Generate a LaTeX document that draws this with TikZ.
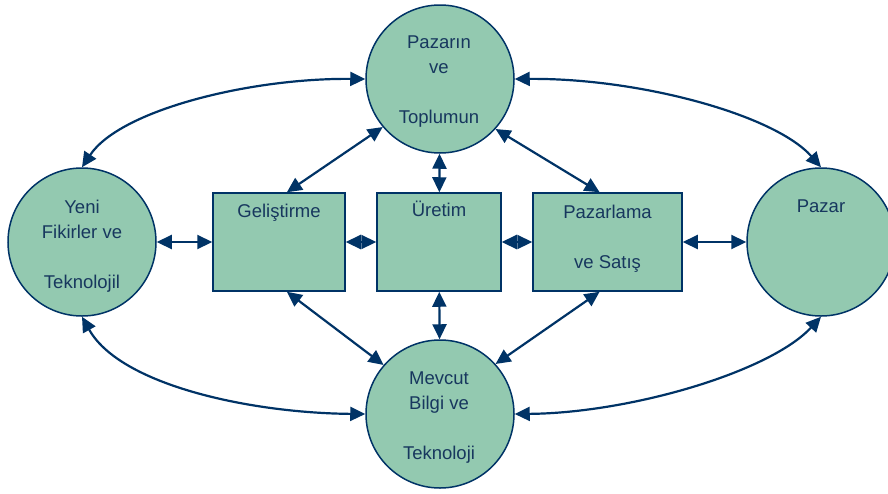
\documentclass[tikz,border=0pt]{standalone}
\usepackage{fontspec}
\setmainfont{Liberation Sans}
\usetikzlibrary{arrows.meta}
\definecolor{navy}{HTML}{003366}
\definecolor{ink}{HTML}{17375E}
\definecolor{sage}{HTML}{93C9B0}
\begin{document}
\begin{tikzpicture}[x=1pt,y=-1pt,
  hub/.style={circle, draw=navy, fill=sage, line width=1.5pt, minimum size=148pt, inner sep=0pt},
  stage/.style={rectangle, draw=navy, fill=sage, line width=1.5pt, minimum height=98pt, inner sep=0pt},
  caption/.style={text=ink, font=\fontsize{18.5}{25}\selectfont, align=center, anchor=base, inner sep=0pt},
  link/.style={draw=navy, line width=2.2pt, {Triangle[length=15pt,width=14pt]}-{Triangle[length=15pt,width=14pt]}}]
\useasboundingbox (0,0) rectangle (888,493);

% outer circles
\node[hub] (T) at (440,79) {};
\node[hub] (L) at (82,242) {};
\node[hub] (R) at (821,242) {};
\node[hub] (B) at (440,414) {};

% process boxes
\node[stage, minimum width=132pt] (G) at (279,242) {};
\node[stage, minimum width=124pt] (U) at (439,242) {};
\node[stage, minimum width=149pt] (P) at (607.5,242) {};

% labels (placed at the baseline of their last line)
\node[caption] (Tt) at (439,123) {Pazarın\\ve\\[25pt]Toplumun};
\node[caption] (Lt) at (82,288) {Yeni\\Fikirler ve\\[25pt]Teknolojil};
\node[caption] (Rt) at (821,212) {Pazar};
\node[caption] (Bt) at (439,459) {Mevcut\\Bilgi ve\\[25pt]Teknoloji};
\node[caption] (Gt) at (279,217) {Geliştirme};
\node[caption] (Ut) at (439,216) {Üretim};
\node[caption] (Pt) at (607.5,268) {Pazarlama\\[25pt]ve Satış};

% horizontal chain
\draw[link] (L) -- (G);
\draw[link] (G) -- (U);
\draw[link] (U) -- (P);
\draw[link] (P) -- (R);

% radial links
\draw[link] (T.220) -- (G.81);
\draw[link] (T) -- (U);
\draw[link] (T.318) -- (P.99);
\draw[link] (B.139) -- (G.279);
\draw[link] (B) -- (U);
\draw[link] (B.42) -- (P.261);

% outer arcs
\draw[link] (L.90) .. controls (120,110) and (250,78) .. (T.180);
\draw[link] (T.0) .. controls (640,78) and (775,115) .. (R.90);
\draw[link] (L.270) .. controls (120,385) and (250,413) .. (B.180);
\draw[link] (B.0) .. controls (630,413) and (770,372) .. (R.270);
\end{tikzpicture}
\end{document}
